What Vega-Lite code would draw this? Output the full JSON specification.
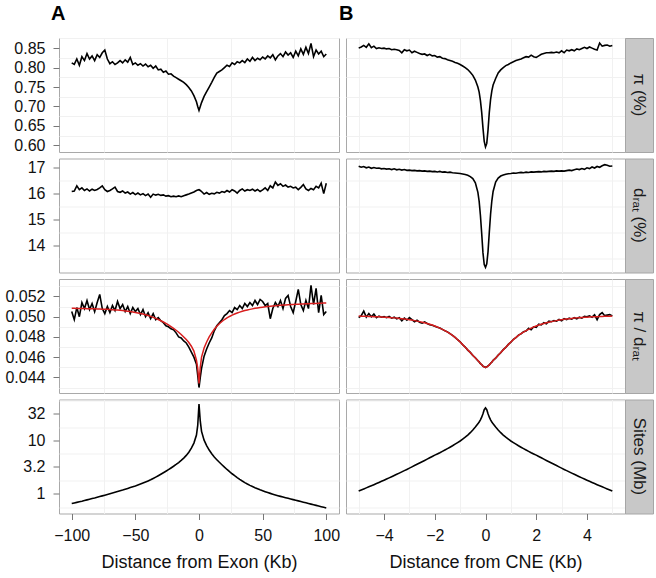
{
"$schema": "https://vega.github.io/schema/vega-lite/v6.json",
"padding": {"left": 4, "top": 3, "right": 4, "bottom": 2},
"background": "white",
"datasets": {
"exon": [
{"x":-100,"pi":0.812,"dr":16.08,"ra":0.0505,"fit":0.05082,"si":0.661},
{"x":-98,"pi":0.808,"dr":16.10,"ra":0.0497,"fit":0.05082,"si":0.678},
{"x":-96,"pi":0.822,"dr":16.30,"ra":0.0509,"fit":0.05081,"si":0.695},
{"x":-94,"pi":0.806,"dr":16.15,"ra":0.0500,"fit":0.05081,"si":0.713},
{"x":-92,"pi":0.828,"dr":16.22,"ra":0.0514,"fit":0.05080,"si":0.731},
{"x":-90,"pi":0.818,"dr":16.12,"ra":0.0508,"fit":0.05080,"si":0.752},
{"x":-88,"pi":0.836,"dr":16.18,"ra":0.0516,"fit":0.05079,"si":0.773},
{"x":-86,"pi":0.822,"dr":16.10,"ra":0.0507,"fit":0.05078,"si":0.794},
{"x":-84,"pi":0.830,"dr":16.17,"ra":0.0513,"fit":0.05078,"si":0.817},
{"x":-82,"pi":0.818,"dr":16.12,"ra":0.0505,"fit":0.05077,"si":0.839},
{"x":-80,"pi":0.833,"dr":16.16,"ra":0.0514,"fit":0.05076,"si":0.865},
{"x":-78,"pi":0.826,"dr":16.22,"ra":0.0522,"fit":0.05075,"si":0.891},
{"x":-76,"pi":0.838,"dr":16.30,"ra":0.0508,"fit":0.05074,"si":0.918},
{"x":-74,"pi":0.845,"dr":16.15,"ra":0.0503,"fit":0.05073,"si":0.946},
{"x":-72,"pi":0.822,"dr":16.08,"ra":0.0510,"fit":0.05072,"si":0.975},
{"x":-70,"pi":0.810,"dr":16.12,"ra":0.0504,"fit":0.05071,"si":1.007},
{"x":-68,"pi":0.815,"dr":16.18,"ra":0.0511,"fit":0.05069,"si":1.040},
{"x":-66,"pi":0.808,"dr":16.25,"ra":0.0506,"fit":0.05067,"si":1.074},
{"x":-64,"pi":0.812,"dr":16.08,"ra":0.0515,"fit":0.05065,"si":1.109},
{"x":-62,"pi":0.818,"dr":16.05,"ra":0.0508,"fit":0.05063,"si":1.146},
{"x":-60,"pi":0.812,"dr":16.10,"ra":0.0512,"fit":0.05060,"si":1.183},
{"x":-58,"pi":0.820,"dr":16.02,"ra":0.0505,"fit":0.05057,"si":1.225},
{"x":-56,"pi":0.814,"dr":16.06,"ra":0.0510,"fit":0.05054,"si":1.268},
{"x":-54,"pi":0.826,"dr":15.98,"ra":0.0503,"fit":0.05050,"si":1.312},
{"x":-52,"pi":0.808,"dr":16.04,"ra":0.0509,"fit":0.05046,"si":1.358},
{"x":-50,"pi":0.812,"dr":15.96,"ra":0.0505,"fit":0.05042,"si":1.406},
{"x":-48,"pi":0.806,"dr":16.02,"ra":0.0508,"fit":0.05037,"si":1.462},
{"x":-46,"pi":0.810,"dr":15.95,"ra":0.0502,"fit":0.05032,"si":1.524},
{"x":-44,"pi":0.804,"dr":16.00,"ra":0.0507,"fit":0.05026,"si":1.592},
{"x":-42,"pi":0.809,"dr":15.92,"ra":0.0500,"fit":0.05019,"si":1.667},
{"x":-40,"pi":0.802,"dr":15.98,"ra":0.0504,"fit":0.05011,"si":1.750},
{"x":-38,"pi":0.806,"dr":15.86,"ra":0.0498,"fit":0.05003,"si":1.841},
{"x":-36,"pi":0.798,"dr":15.98,"ra":0.0503,"fit":0.04993,"si":1.945},
{"x":-34,"pi":0.804,"dr":15.94,"ra":0.0497,"fit":0.04983,"si":2.061},
{"x":-32,"pi":0.794,"dr":15.97,"ra":0.0499,"fit":0.04972,"si":2.188},
{"x":-30,"pi":0.796,"dr":15.93,"ra":0.0496,"fit":0.04960,"si":2.328},
{"x":-28,"pi":0.788,"dr":15.95,"ra":0.0494,"fit":0.04947,"si":2.483},
{"x":-26,"pi":0.791,"dr":15.90,"ra":0.0491,"fit":0.04933,"si":2.655},
{"x":-24,"pi":0.783,"dr":15.92,"ra":0.0490,"fit":0.04918,"si":2.844},
{"x":-22,"pi":0.784,"dr":15.88,"ra":0.0488,"fit":0.04902,"si":3.055},
{"x":-20,"pi":0.778,"dr":15.90,"ra":0.0487,"fit":0.04885,"si":3.289},
{"x":-18,"pi":0.774,"dr":15.88,"ra":0.0484,"fit":0.04866,"si":3.556},
{"x":-16,"pi":0.770,"dr":15.91,"ra":0.0480,"fit":0.04846,"si":3.864},
{"x":-14,"pi":0.766,"dr":15.88,"ra":0.0479,"fit":0.04824,"si":4.227},
{"x":-12,"pi":0.762,"dr":15.92,"ra":0.0476,"fit":0.04800,"si":4.677},
{"x":-10,"pi":0.756,"dr":15.95,"ra":0.0474,"fit":0.04774,"si":5.248},
{"x":-8,"pi":0.749,"dr":15.98,"ra":0.0470,"fit":0.04744,"si":6.026},
{"x":-6,"pi":0.740,"dr":16.02,"ra":0.0465,"fit":0.04708,"si":7.161},
{"x":-4,"pi":0.728,"dr":16.06,"ra":0.0460,"fit":0.04660,"si":8.913},
{"x":-2,"pi":0.712,"dr":16.12,"ra":0.0453,"fit":0.04570,"si":12.59},
{"x":-1,"pi":0.700,"dr":16.14,"ra":0.0442,"fit":0.04490,"si":19.05},
{"x":0,"pi":0.690,"dr":16.15,"ra":0.0430,"fit":0.04340,"si":47.86},
{"x":1,"pi":0.700,"dr":16.12,"ra":0.0440,"fit":0.04500,"si":22.91},
{"x":2,"pi":0.710,"dr":16.08,"ra":0.0449,"fit":0.04600,"si":14.79},
{"x":4,"pi":0.726,"dr":15.98,"ra":0.0461,"fit":0.04690,"si":10.12},
{"x":6,"pi":0.738,"dr":16.04,"ra":0.0468,"fit":0.04750,"si":8.035},
{"x":8,"pi":0.750,"dr":15.97,"ra":0.0474,"fit":0.04800,"si":6.607},
{"x":10,"pi":0.762,"dr":16.01,"ra":0.0479,"fit":0.04840,"si":5.623},
{"x":12,"pi":0.775,"dr":15.99,"ra":0.0486,"fit":0.04875,"si":4.898},
{"x":14,"pi":0.786,"dr":16.05,"ra":0.0491,"fit":0.04905,"si":4.365},
{"x":16,"pi":0.790,"dr":16.02,"ra":0.0494,"fit":0.04930,"si":3.908},
{"x":18,"pi":0.794,"dr":16.08,"ra":0.0497,"fit":0.04952,"si":3.516},
{"x":20,"pi":0.800,"dr":16.05,"ra":0.0501,"fit":0.04972,"si":3.162},
{"x":22,"pi":0.806,"dr":16.12,"ra":0.0503,"fit":0.04988,"si":2.864},
{"x":24,"pi":0.803,"dr":16.06,"ra":0.0506,"fit":0.05002,"si":2.606},
{"x":26,"pi":0.812,"dr":16.15,"ra":0.0504,"fit":0.05015,"si":2.382},
{"x":28,"pi":0.808,"dr":16.10,"ra":0.0509,"fit":0.05026,"si":2.188},
{"x":30,"pi":0.815,"dr":16.02,"ra":0.0507,"fit":0.05036,"si":2.018},
{"x":32,"pi":0.812,"dr":16.12,"ra":0.0511,"fit":0.05045,"si":1.871},
{"x":34,"pi":0.818,"dr":16.18,"ra":0.0508,"fit":0.05053,"si":1.742},
{"x":36,"pi":0.813,"dr":16.10,"ra":0.0513,"fit":0.05060,"si":1.629},
{"x":38,"pi":0.822,"dr":16.15,"ra":0.0510,"fit":0.05066,"si":1.531},
{"x":40,"pi":0.816,"dr":16.12,"ra":0.0514,"fit":0.05072,"si":1.445},
{"x":42,"pi":0.826,"dr":16.17,"ra":0.0511,"fit":0.05077,"si":1.371},
{"x":44,"pi":0.818,"dr":16.10,"ra":0.0516,"fit":0.05082,"si":1.303},
{"x":46,"pi":0.824,"dr":16.16,"ra":0.0512,"fit":0.05086,"si":1.245},
{"x":48,"pi":0.820,"dr":16.08,"ra":0.0517,"fit":0.05090,"si":1.191},
{"x":50,"pi":0.827,"dr":16.14,"ra":0.0515,"fit":0.05094,"si":1.143},
{"x":52,"pi":0.822,"dr":16.22,"ra":0.0511,"fit":0.05097,"si":1.099},
{"x":54,"pi":0.830,"dr":16.12,"ra":0.0513,"fit":0.05100,"si":1.059},
{"x":56,"pi":0.825,"dr":16.30,"ra":0.0498,"fit":0.05103,"si":1.023},
{"x":58,"pi":0.833,"dr":16.22,"ra":0.0508,"fit":0.05106,"si":0.989},
{"x":60,"pi":0.820,"dr":16.45,"ra":0.0514,"fit":0.05108,"si":0.957},
{"x":62,"pi":0.830,"dr":16.32,"ra":0.0510,"fit":0.05110,"si":0.927},
{"x":64,"pi":0.836,"dr":16.38,"ra":0.0516,"fit":0.05112,"si":0.899},
{"x":66,"pi":0.828,"dr":16.28,"ra":0.0508,"fit":0.05114,"si":0.873},
{"x":68,"pi":0.840,"dr":16.33,"ra":0.0518,"fit":0.05116,"si":0.849},
{"x":70,"pi":0.832,"dr":16.25,"ra":0.0521,"fit":0.05118,"si":0.826},
{"x":72,"pi":0.838,"dr":16.28,"ra":0.0510,"fit":0.05119,"si":0.804},
{"x":74,"pi":0.826,"dr":16.22,"ra":0.0504,"fit":0.05121,"si":0.782},
{"x":76,"pi":0.842,"dr":16.25,"ra":0.0515,"fit":0.05122,"si":0.760},
{"x":78,"pi":0.830,"dr":16.15,"ra":0.0527,"fit":0.05123,"si":0.740},
{"x":80,"pi":0.848,"dr":16.24,"ra":0.0512,"fit":0.05125,"si":0.719},
{"x":82,"pi":0.834,"dr":16.35,"ra":0.0506,"fit":0.05126,"si":0.700},
{"x":84,"pi":0.852,"dr":16.18,"ra":0.0516,"fit":0.05127,"si":0.681},
{"x":86,"pi":0.836,"dr":16.12,"ra":0.0508,"fit":0.05128,"si":0.662},
{"x":88,"pi":0.862,"dr":16.20,"ra":0.0531,"fit":0.05129,"si":0.644},
{"x":90,"pi":0.828,"dr":16.15,"ra":0.0512,"fit":0.05130,"si":0.627},
{"x":92,"pi":0.845,"dr":16.28,"ra":0.0528,"fit":0.05131,"si":0.610},
{"x":94,"pi":0.835,"dr":16.22,"ra":0.0504,"fit":0.05132,"si":0.593},
{"x":96,"pi":0.842,"dr":16.40,"ra":0.0521,"fit":0.05133,"si":0.577},
{"x":98,"pi":0.828,"dr":16.00,"ra":0.0502,"fit":0.05134,"si":0.561},
{"x":100,"pi":0.835,"dr":16.40,"ra":0.0505,"fit":0.05135,"si":0.546}
],
"cne": [
{"x":-5.0,"pi":0.850,"dr":17.06,"ra":0.04990,"fit":0.05006,"si":1.130},
{"x":-4.9,"pi":0.853,"dr":17.02,"ra":0.05010,"fit":0.05005,"si":1.183},
{"x":-4.8,"pi":0.857,"dr":17.05,"ra":0.05055,"fit":0.05004,"si":1.239},
{"x":-4.7,"pi":0.852,"dr":17.00,"ra":0.04995,"fit":0.05003,"si":1.297},
{"x":-4.6,"pi":0.861,"dr":17.03,"ra":0.05030,"fit":0.05002,"si":1.358},
{"x":-4.5,"pi":0.851,"dr":16.98,"ra":0.04998,"fit":0.05001,"si":1.422},
{"x":-4.4,"pi":0.855,"dr":17.01,"ra":0.05025,"fit":0.05000,"si":1.489},
{"x":-4.3,"pi":0.849,"dr":16.98,"ra":0.04990,"fit":0.04999,"si":1.563},
{"x":-4.2,"pi":0.851,"dr":16.99,"ra":0.05005,"fit":0.04998,"si":1.641},
{"x":-4.1,"pi":0.849,"dr":16.96,"ra":0.04995,"fit":0.04997,"si":1.722},
{"x":-4.0,"pi":0.850,"dr":16.97,"ra":0.05000,"fit":0.04995,"si":1.807},
{"x":-3.9,"pi":0.848,"dr":16.95,"ra":0.04990,"fit":0.04994,"si":1.897},
{"x":-3.8,"pi":0.849,"dr":16.96,"ra":0.05002,"fit":0.04992,"si":1.995},
{"x":-3.7,"pi":0.846,"dr":16.93,"ra":0.04985,"fit":0.04990,"si":2.099},
{"x":-3.6,"pi":0.847,"dr":16.96,"ra":0.04995,"fit":0.04988,"si":2.208},
{"x":-3.5,"pi":0.846,"dr":16.92,"ra":0.04978,"fit":0.04986,"si":2.323},
{"x":-3.4,"pi":0.844,"dr":16.94,"ra":0.04990,"fit":0.04983,"si":2.449},
{"x":-3.3,"pi":0.838,"dr":16.91,"ra":0.04960,"fit":0.04980,"si":2.582},
{"x":-3.2,"pi":0.846,"dr":16.93,"ra":0.04985,"fit":0.04977,"si":2.723},
{"x":-3.1,"pi":0.843,"dr":16.90,"ra":0.04965,"fit":0.04974,"si":2.871},
{"x":-3.0,"pi":0.845,"dr":16.91,"ra":0.04990,"fit":0.04970,"si":3.034},
{"x":-2.9,"pi":0.838,"dr":16.89,"ra":0.04970,"fit":0.04966,"si":3.206},
{"x":-2.8,"pi":0.842,"dr":16.90,"ra":0.04950,"fit":0.04961,"si":3.388},
{"x":-2.7,"pi":0.839,"dr":16.88,"ra":0.04965,"fit":0.04956,"si":3.581},
{"x":-2.6,"pi":0.836,"dr":16.89,"ra":0.04945,"fit":0.04951,"si":3.784},
{"x":-2.5,"pi":0.834,"dr":16.87,"ra":0.04935,"fit":0.04945,"si":3.999},
{"x":-2.4,"pi":0.835,"dr":16.88,"ra":0.04948,"fit":0.04939,"si":4.227},
{"x":-2.3,"pi":0.831,"dr":16.86,"ra":0.04932,"fit":0.04932,"si":4.467},
{"x":-2.2,"pi":0.834,"dr":16.87,"ra":0.04920,"fit":0.04925,"si":4.732},
{"x":-2.1,"pi":0.830,"dr":16.85,"ra":0.04915,"fit":0.04917,"si":5.012},
{"x":-2.0,"pi":0.831,"dr":16.86,"ra":0.04905,"fit":0.04908,"si":5.309},
{"x":-1.9,"pi":0.827,"dr":16.84,"ra":0.04895,"fit":0.04898,"si":5.585},
{"x":-1.8,"pi":0.828,"dr":16.86,"ra":0.04888,"fit":0.04887,"si":5.888},
{"x":-1.7,"pi":0.824,"dr":16.83,"ra":0.04874,"fit":0.04875,"si":6.237},
{"x":-1.6,"pi":0.823,"dr":16.84,"ra":0.04860,"fit":0.04862,"si":6.607},
{"x":-1.5,"pi":0.820,"dr":16.82,"ra":0.04850,"fit":0.04848,"si":7.015},
{"x":-1.4,"pi":0.818,"dr":16.83,"ra":0.04832,"fit":0.04833,"si":7.464},
{"x":-1.3,"pi":0.816,"dr":16.81,"ra":0.04816,"fit":0.04815,"si":7.943},
{"x":-1.2,"pi":0.813,"dr":16.80,"ra":0.04796,"fit":0.04795,"si":8.511},
{"x":-1.1,"pi":0.811,"dr":16.79,"ra":0.04772,"fit":0.04773,"si":9.120},
{"x":-1.0,"pi":0.808,"dr":16.78,"ra":0.04752,"fit":0.04750,"si":9.772},
{"x":-0.9,"pi":0.804,"dr":16.76,"ra":0.04722,"fit":0.04724,"si":10.59},
{"x":-0.8,"pi":0.800,"dr":16.74,"ra":0.04700,"fit":0.04698,"si":11.48},
{"x":-0.7,"pi":0.795,"dr":16.71,"ra":0.04670,"fit":0.04672,"si":12.59},
{"x":-0.6,"pi":0.788,"dr":16.66,"ra":0.04647,"fit":0.04645,"si":13.96},
{"x":-0.5,"pi":0.780,"dr":16.58,"ra":0.04616,"fit":0.04618,"si":15.67},
{"x":-0.4,"pi":0.768,"dr":16.42,"ra":0.04594,"fit":0.04592,"si":17.78},
{"x":-0.3,"pi":0.750,"dr":16.05,"ra":0.04564,"fit":0.04566,"si":20.42},
{"x":-0.25,"pi":0.737,"dr":15.70,"ra":0.04553,"fit":0.04552,"si":22.13},
{"x":-0.2,"pi":0.715,"dr":15.15,"ra":0.04536,"fit":0.04538,"si":24.27},
{"x":-0.15,"pi":0.685,"dr":14.45,"ra":0.04527,"fit":0.04525,"si":27.23},
{"x":-0.1,"pi":0.645,"dr":13.70,"ra":0.04510,"fit":0.04512,"si":31.62},
{"x":-0.05,"pi":0.610,"dr":13.25,"ra":0.04505,"fit":0.04503,"si":37.58},
{"x":0,"pi":0.596,"dr":13.14,"ra":0.04498,"fit":0.04500,"si":40.74},
{"x":0.05,"pi":0.605,"dr":13.28,"ra":0.04505,"fit":0.04503,"si":37.58},
{"x":0.1,"pi":0.640,"dr":13.75,"ra":0.04514,"fit":0.04512,"si":31.62},
{"x":0.15,"pi":0.685,"dr":14.50,"ra":0.04523,"fit":0.04525,"si":27.23},
{"x":0.2,"pi":0.718,"dr":15.20,"ra":0.04540,"fit":0.04538,"si":24.27},
{"x":0.25,"pi":0.740,"dr":15.72,"ra":0.04550,"fit":0.04552,"si":22.13},
{"x":0.3,"pi":0.755,"dr":16.08,"ra":0.04568,"fit":0.04566,"si":20.42},
{"x":0.4,"pi":0.772,"dr":16.45,"ra":0.04590,"fit":0.04592,"si":17.78},
{"x":0.5,"pi":0.786,"dr":16.60,"ra":0.04620,"fit":0.04618,"si":15.67},
{"x":0.6,"pi":0.794,"dr":16.68,"ra":0.04643,"fit":0.04645,"si":13.96},
{"x":0.7,"pi":0.800,"dr":16.72,"ra":0.04675,"fit":0.04672,"si":12.59},
{"x":0.8,"pi":0.805,"dr":16.75,"ra":0.04696,"fit":0.04698,"si":11.48},
{"x":0.9,"pi":0.808,"dr":16.77,"ra":0.04726,"fit":0.04724,"si":10.59},
{"x":1.0,"pi":0.812,"dr":16.78,"ra":0.04748,"fit":0.04750,"si":9.772},
{"x":1.1,"pi":0.815,"dr":16.80,"ra":0.04776,"fit":0.04773,"si":9.120},
{"x":1.2,"pi":0.818,"dr":16.79,"ra":0.04792,"fit":0.04795,"si":8.511},
{"x":1.3,"pi":0.820,"dr":16.81,"ra":0.04818,"fit":0.04815,"si":7.943},
{"x":1.4,"pi":0.822,"dr":16.82,"ra":0.04830,"fit":0.04833,"si":7.464},
{"x":1.5,"pi":0.825,"dr":16.81,"ra":0.04852,"fit":0.04848,"si":7.015},
{"x":1.6,"pi":0.828,"dr":16.83,"ra":0.04858,"fit":0.04862,"si":6.607},
{"x":1.7,"pi":0.827,"dr":16.82,"ra":0.04885,"fit":0.04875,"si":6.237},
{"x":1.8,"pi":0.832,"dr":16.84,"ra":0.04870,"fit":0.04887,"si":5.888},
{"x":1.9,"pi":0.828,"dr":16.83,"ra":0.04900,"fit":0.04898,"si":5.585},
{"x":2.0,"pi":0.826,"dr":16.84,"ra":0.04895,"fit":0.04908,"si":5.309},
{"x":2.1,"pi":0.830,"dr":16.85,"ra":0.04925,"fit":0.04917,"si":5.012},
{"x":2.2,"pi":0.834,"dr":16.84,"ra":0.04918,"fit":0.04925,"si":4.732},
{"x":2.3,"pi":0.836,"dr":16.86,"ra":0.04940,"fit":0.04932,"si":4.467},
{"x":2.4,"pi":0.838,"dr":16.85,"ra":0.04930,"fit":0.04939,"si":4.227},
{"x":2.5,"pi":0.838,"dr":16.86,"ra":0.04955,"fit":0.04945,"si":3.999},
{"x":2.6,"pi":0.839,"dr":16.87,"ra":0.04950,"fit":0.04951,"si":3.784},
{"x":2.7,"pi":0.838,"dr":16.86,"ra":0.04962,"fit":0.04956,"si":3.581},
{"x":2.8,"pi":0.840,"dr":16.88,"ra":0.04955,"fit":0.04961,"si":3.388},
{"x":2.9,"pi":0.838,"dr":16.87,"ra":0.04972,"fit":0.04966,"si":3.206},
{"x":3.0,"pi":0.843,"dr":16.88,"ra":0.04960,"fit":0.04970,"si":3.034},
{"x":3.1,"pi":0.838,"dr":16.87,"ra":0.04980,"fit":0.04974,"si":2.871},
{"x":3.2,"pi":0.845,"dr":16.89,"ra":0.04970,"fit":0.04977,"si":2.723},
{"x":3.3,"pi":0.843,"dr":16.91,"ra":0.04985,"fit":0.04980,"si":2.582},
{"x":3.4,"pi":0.846,"dr":16.89,"ra":0.04975,"fit":0.04983,"si":2.449},
{"x":3.5,"pi":0.843,"dr":16.92,"ra":0.04990,"fit":0.04986,"si":2.323},
{"x":3.6,"pi":0.848,"dr":16.95,"ra":0.04978,"fit":0.04988,"si":2.208},
{"x":3.7,"pi":0.846,"dr":16.93,"ra":0.04995,"fit":0.04990,"si":2.099},
{"x":3.8,"pi":0.849,"dr":16.97,"ra":0.04985,"fit":0.04992,"si":1.995},
{"x":3.9,"pi":0.852,"dr":16.94,"ra":0.05002,"fit":0.04994,"si":1.897},
{"x":4.0,"pi":0.849,"dr":17.00,"ra":0.04998,"fit":0.04995,"si":1.807},
{"x":4.1,"pi":0.853,"dr":16.97,"ra":0.05008,"fit":0.04997,"si":1.722},
{"x":4.2,"pi":0.850,"dr":17.03,"ra":0.04995,"fit":0.04998,"si":1.641},
{"x":4.3,"pi":0.847,"dr":16.99,"ra":0.05018,"fit":0.04999,"si":1.563},
{"x":4.4,"pi":0.845,"dr":17.05,"ra":0.04970,"fit":0.05000,"si":1.489},
{"x":4.5,"pi":0.863,"dr":17.02,"ra":0.05020,"fit":0.05001,"si":1.422},
{"x":4.6,"pi":0.855,"dr":17.08,"ra":0.05040,"fit":0.05002,"si":1.358},
{"x":4.7,"pi":0.857,"dr":17.12,"ra":0.05010,"fit":0.05003,"si":1.297},
{"x":4.8,"pi":0.858,"dr":17.10,"ra":0.05015,"fit":0.05004,"si":1.239},
{"x":4.9,"pi":0.855,"dr":17.06,"ra":0.05020,"fit":0.05005,"si":1.183},
{"x":5.0,"pi":0.857,"dr":17.07,"ra":0.05008,"fit":0.05006,"si":1.130}
]
},
"columns": 2,
"bounds": "flush",
"spacing": {"row": 6.5, "column": 7},
"concat": [
{
 "width": 280, "height": 114, "data": {"name": "exon"},
 "title": {"text": "A", "anchor": "start", "frame": "group", "fontSize": 20, "fontWeight": "bold", "dx": -8, "offset": 14, "color": "black"},
 "layer": [
  {"mark": {"type": "line", "strokeOpacity": 0}, "encoding": {
   "x": {"field": "x", "type": "quantitative", "scale": {"domain": [-110, 110], "nice": false, "zero": false}, "axis": {"orient": "top", "values": [-75, -25, 25, 75], "gridColor": "#f1f1f1", "labels": false, "ticks": false, "title": null, "minExtent": 0, "maxExtent": 0}},
   "y": {"field": "pi", "type": "quantitative", "scale": {"domain": [0.583, 0.876], "nice": false, "zero": false}, "axis": {"orient": "right", "values": [0.625, 0.675, 0.725, 0.775, 0.825, 0.875], "gridColor": "#f1f1f1", "labels": false, "ticks": false, "title": null, "minExtent": 0, "maxExtent": 0}}}},
  {"mark": {"type": "line", "color": "black", "strokeWidth": 1.6}, "encoding": {
   "x": {"field": "x", "type": "quantitative", "axis": {"orient": "bottom", "values": [-100, -50, 0, 50, 100], "labels": false, "ticks": false, "title": null, "minExtent": 0, "maxExtent": 0}},
   "y": {"field": "pi", "type": "quantitative", "axis": {"orient": "left", "values": [0.6, 0.65, 0.7, 0.75, 0.8, 0.85], "format": ".2f", "title": null}}}}
 ],
 "resolve": {"axis": {"x": "independent", "y": "independent"}}
},
{
 "spacing": 0,
 "bounds": "flush",
 "hconcat": [
  {
   "width": 279, "height": 114, "data": {"name": "cne"},
   "title": {"text": "B", "anchor": "start", "frame": "group", "fontSize": 20, "fontWeight": "bold", "dx": -7, "offset": 14, "color": "black"},
   "layer": [
    {"mark": {"type": "line", "strokeOpacity": 0}, "encoding": {
     "x": {"field": "x", "type": "quantitative", "scale": {"domain": [-5.5, 5.5], "nice": false, "zero": false}, "axis": {"orient": "top", "values": [-5, -3, -1, 1, 3, 5], "gridColor": "#f1f1f1", "labels": false, "ticks": false, "title": null, "minExtent": 0, "maxExtent": 0}},
     "y": {"field": "pi", "type": "quantitative", "scale": {"domain": [0.583, 0.876], "nice": false, "zero": false}, "axis": {"orient": "right", "values": [0.625, 0.675, 0.725, 0.775, 0.825, 0.875], "gridColor": "#f1f1f1", "labels": false, "ticks": false, "title": null, "minExtent": 0, "maxExtent": 0}}}},
    {"mark": {"type": "line", "color": "black", "strokeWidth": 1.6}, "encoding": {
     "x": {"field": "x", "type": "quantitative", "axis": {"orient": "bottom", "values": [-4, -2, 0, 2, 4], "labels": false, "ticks": false, "title": null, "minExtent": 0, "maxExtent": 0}},
     "y": {"field": "pi", "type": "quantitative", "axis": {"orient": "left", "values": [0.6, 0.65, 0.7, 0.75, 0.8, 0.85], "labels": false, "ticks": false, "title": null, "minExtent": 0, "maxExtent": 0}}}}
   ],
   "resolve": {"axis": {"x": "independent", "y": "independent"}}
  },
  {"width": 28, "height": 114, "data": {"values": [{"label": "π (%)"}]}, "view": {"fill": "#c8c8c8", "stroke": "#a6a6a6"},
   "mark": {"type": "text", "angle": 90, "fontSize": 17, "color": "#1a1a1a"}, "encoding": {"text": {"field": "label"}}}
 ]
},
{
 "width": 280, "height": 114, "data": {"name": "exon"},
 "layer": [
  {"mark": {"type": "line", "strokeOpacity": 0}, "encoding": {
   "x": {"field": "x", "type": "quantitative", "scale": {"domain": [-110, 110], "nice": false, "zero": false}, "axis": {"orient": "top", "values": [-75, -25, 25, 75], "gridColor": "#f1f1f1", "labels": false, "ticks": false, "title": null, "minExtent": 0, "maxExtent": 0}},
   "y": {"field": "dr", "type": "quantitative", "scale": {"domain": [12.94, 17.36], "nice": false, "zero": false}, "axis": {"orient": "right", "values": [13.5, 14.5, 15.5, 16.5], "gridColor": "#f1f1f1", "labels": false, "ticks": false, "title": null, "minExtent": 0, "maxExtent": 0}}}},
  {"mark": {"type": "line", "color": "black", "strokeWidth": 1.6}, "encoding": {
   "x": {"field": "x", "type": "quantitative", "axis": {"orient": "bottom", "values": [-100, -50, 0, 50, 100], "labels": false, "ticks": false, "title": null, "minExtent": 0, "maxExtent": 0}},
   "y": {"field": "dr", "type": "quantitative", "axis": {"orient": "left", "values": [14, 15, 16, 17], "format": "d", "title": null}}}}
 ],
 "resolve": {"axis": {"x": "independent", "y": "independent"}}
},
{
 "spacing": 0,
 "bounds": "flush",
 "hconcat": [
  {
   "width": 279, "height": 114, "data": {"name": "cne"},
   "layer": [
    {"mark": {"type": "line", "strokeOpacity": 0}, "encoding": {
     "x": {"field": "x", "type": "quantitative", "scale": {"domain": [-5.5, 5.5], "nice": false, "zero": false}, "axis": {"orient": "top", "values": [-5, -3, -1, 1, 3, 5], "gridColor": "#f1f1f1", "labels": false, "ticks": false, "title": null, "minExtent": 0, "maxExtent": 0}},
     "y": {"field": "dr", "type": "quantitative", "scale": {"domain": [12.94, 17.36], "nice": false, "zero": false}, "axis": {"orient": "right", "values": [13.5, 14.5, 15.5, 16.5], "gridColor": "#f1f1f1", "labels": false, "ticks": false, "title": null, "minExtent": 0, "maxExtent": 0}}}},
    {"mark": {"type": "line", "color": "black", "strokeWidth": 1.6}, "encoding": {
     "x": {"field": "x", "type": "quantitative", "axis": {"orient": "bottom", "values": [-4, -2, 0, 2, 4], "labels": false, "ticks": false, "title": null, "minExtent": 0, "maxExtent": 0}},
     "y": {"field": "dr", "type": "quantitative", "axis": {"orient": "left", "values": [14, 15, 16, 17], "labels": false, "ticks": false, "title": null, "minExtent": 0, "maxExtent": 0}}}}
   ],
   "resolve": {"axis": {"x": "independent", "y": "independent"}}
  },
  {"width": 28, "height": 114, "data": {"values": [{"label": "dᵣₐₜ (%)"}]}, "view": {"fill": "#c8c8c8", "stroke": "#a6a6a6"},
   "mark": {"type": "text", "angle": 90, "fontSize": 17, "color": "#1a1a1a"}, "encoding": {"text": {"field": "label"}}}
 ]
},
{
 "width": 280, "height": 114, "data": {"name": "exon"},
 "layer": [
  {"mark": {"type": "line", "strokeOpacity": 0}, "encoding": {
   "x": {"field": "x", "type": "quantitative", "scale": {"domain": [-110, 110], "nice": false, "zero": false}, "axis": {"orient": "top", "values": [-75, -25, 25, 75], "gridColor": "#f1f1f1", "labels": false, "ticks": false, "title": null, "minExtent": 0, "maxExtent": 0}},
   "y": {"field": "ra", "type": "quantitative", "scale": {"domain": [0.04246, 0.05372], "nice": false, "zero": false}, "axis": {"orient": "right", "values": [0.043, 0.045, 0.047, 0.049, 0.051, 0.053], "gridColor": "#f1f1f1", "labels": false, "ticks": false, "title": null, "minExtent": 0, "maxExtent": 0}}}},
  {"mark": {"type": "line", "color": "black", "strokeWidth": 1.6}, "encoding": {
   "x": {"field": "x", "type": "quantitative", "axis": {"orient": "bottom", "values": [-100, -50, 0, 50, 100], "labels": false, "ticks": false, "title": null, "minExtent": 0, "maxExtent": 0}},
   "y": {"field": "ra", "type": "quantitative", "axis": {"orient": "left", "values": [0.044, 0.046, 0.048, 0.05, 0.052], "format": ".3f", "title": null}}}},
  {"mark": {"type": "line", "color": "#d81e1e", "strokeWidth": 1.5}, "encoding": {
   "x": {"field": "x", "type": "quantitative", "axis": null},
   "y": {"field": "fit", "type": "quantitative", "axis": null}}}
 ],
 "resolve": {"axis": {"x": "independent", "y": "independent"}}
},
{
 "spacing": 0,
 "bounds": "flush",
 "hconcat": [
  {
   "width": 279, "height": 114, "data": {"name": "cne"},
   "layer": [
    {"mark": {"type": "line", "strokeOpacity": 0}, "encoding": {
     "x": {"field": "x", "type": "quantitative", "scale": {"domain": [-5.5, 5.5], "nice": false, "zero": false}, "axis": {"orient": "top", "values": [-5, -3, -1, 1, 3, 5], "gridColor": "#f1f1f1", "labels": false, "ticks": false, "title": null, "minExtent": 0, "maxExtent": 0}},
     "y": {"field": "ra", "type": "quantitative", "scale": {"domain": [0.04246, 0.05372], "nice": false, "zero": false}, "axis": {"orient": "right", "values": [0.043, 0.045, 0.047, 0.049, 0.051, 0.053], "gridColor": "#f1f1f1", "labels": false, "ticks": false, "title": null, "minExtent": 0, "maxExtent": 0}}}},
    {"mark": {"type": "line", "color": "black", "strokeWidth": 1.6}, "encoding": {
     "x": {"field": "x", "type": "quantitative", "axis": {"orient": "bottom", "values": [-4, -2, 0, 2, 4], "labels": false, "ticks": false, "title": null, "minExtent": 0, "maxExtent": 0}},
     "y": {"field": "ra", "type": "quantitative", "axis": {"orient": "left", "values": [0.044, 0.046, 0.048, 0.05, 0.052], "labels": false, "ticks": false, "title": null, "minExtent": 0, "maxExtent": 0}}}},
    {"mark": {"type": "line", "color": "#d81e1e", "strokeWidth": 1.5}, "encoding": {
     "x": {"field": "x", "type": "quantitative", "axis": null},
     "y": {"field": "fit", "type": "quantitative", "axis": null}}}
   ],
   "resolve": {"axis": {"x": "independent", "y": "independent"}}
  },
  {"width": 28, "height": 114, "data": {"values": [{"label": "π / dᵣₐₜ"}]}, "view": {"fill": "#c8c8c8", "stroke": "#a6a6a6"},
   "mark": {"type": "text", "angle": 90, "fontSize": 17, "color": "#1a1a1a"}, "encoding": {"text": {"field": "label"}}}
 ]
},
{
 "width": 280, "height": 114, "data": {"name": "exon"},
 "layer": [
  {"mark": {"type": "line", "strokeOpacity": 0}, "encoding": {
   "x": {"field": "x", "type": "quantitative", "scale": {"domain": [-110, 110], "nice": false, "zero": false}, "axis": {"orient": "top", "values": [-75, -25, 25, 75], "gridColor": "#f1f1f1", "labels": false, "ticks": false, "title": null, "minExtent": 0, "maxExtent": 0}},
   "y": {"field": "si", "type": "quantitative", "scale": {"type": "log", "domain": [0.43, 58.3], "nice": false}, "axis": {"orient": "right", "values": [0.562, 1.778, 5.623, 17.78, 56.23], "gridColor": "#f1f1f1", "labels": false, "ticks": false, "title": null, "minExtent": 0, "maxExtent": 0}}}},
  {"mark": {"type": "line", "color": "black", "strokeWidth": 1.6}, "encoding": {
   "x": {"field": "x", "type": "quantitative", "axis": {"orient": "bottom", "values": [-100, -50, 0, 50, 100], "format": "d", "title": "Distance from Exon (Kb)"}},
   "y": {"field": "si", "type": "quantitative", "axis": {"orient": "left", "values": [1, 3.2, 10, 32], "labelExpr": "format(datum.value, '~g')", "title": null}}}}
 ],
 "resolve": {"axis": {"x": "independent", "y": "independent"}}
},
{
 "spacing": 0,
 "bounds": "flush",
 "hconcat": [
  {
   "width": 279, "height": 114, "data": {"name": "cne"},
   "layer": [
    {"mark": {"type": "line", "strokeOpacity": 0}, "encoding": {
     "x": {"field": "x", "type": "quantitative", "scale": {"domain": [-5.5, 5.5], "nice": false, "zero": false}, "axis": {"orient": "top", "values": [-5, -3, -1, 1, 3, 5], "gridColor": "#f1f1f1", "labels": false, "ticks": false, "title": null, "minExtent": 0, "maxExtent": 0}},
     "y": {"field": "si", "type": "quantitative", "scale": {"type": "log", "domain": [0.43, 58.3], "nice": false}, "axis": {"orient": "right", "values": [0.562, 1.778, 5.623, 17.78, 56.23], "gridColor": "#f1f1f1", "labels": false, "ticks": false, "title": null, "minExtent": 0, "maxExtent": 0}}}},
    {"mark": {"type": "line", "color": "black", "strokeWidth": 1.6}, "encoding": {
     "x": {"field": "x", "type": "quantitative", "axis": {"orient": "bottom", "values": [-4, -2, 0, 2, 4], "format": "d", "title": "Distance from CNE (Kb)"}},
     "y": {"field": "si", "type": "quantitative", "axis": {"orient": "left", "values": [1, 3.2, 10, 32], "labels": false, "ticks": false, "title": null, "minExtent": 0, "maxExtent": 0}}}}
   ],
   "resolve": {"axis": {"x": "independent", "y": "independent"}}
  },
  {"width": 28, "height": 114, "data": {"values": [{"label": "Sites (Mb)"}]}, "view": {"fill": "#c8c8c8", "stroke": "#a6a6a6"},
   "mark": {"type": "text", "angle": 90, "fontSize": 17, "color": "#1a1a1a"}, "encoding": {"text": {"field": "label"}}}
 ]
}
],
"config": {
 "font": "Liberation Sans",
 "view": {"stroke": "#a9a9a9", "strokeWidth": 1},
 "axis": {"grid": true, "domain": false, "gridColor": "#e2e2e2", "gridWidth": 1, "labelFontSize": 16, "labelColor": "#111111", "labelFont": "Liberation Sans", "tickColor": "#777777", "tickSize": 6, "labelPadding": 8, "titleFontSize": 18, "titleFontWeight": "normal", "titleColor": "#111111", "titleFont": "Liberation Sans", "titlePadding": 10}
}
}
